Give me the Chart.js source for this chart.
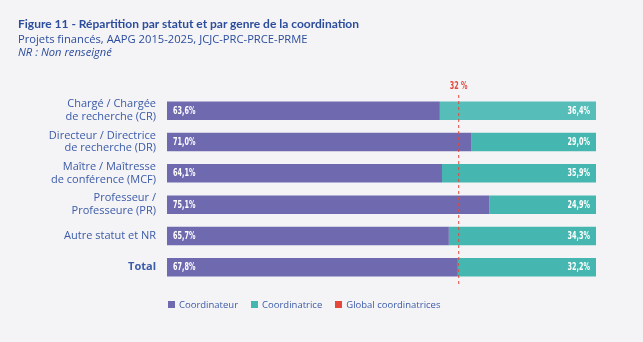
<!DOCTYPE html>
<html><head><meta charset="utf-8">
<script src="https://cdn.jsdelivr.net/npm/chart.js@4.4.1/dist/chart.umd.min.js"></script>
<style>
html,body{margin:0;padding:0;background:#f4f4f6;}
#wrap{position:relative;width:643px;height:342px;background:#f4f4f6;font-family:"Open Sans",sans-serif;}
canvas{position:absolute;left:0;top:0;}
.t{position:absolute;left:18px;color:#2c4c9c;white-space:nowrap;}
#t1{top:16px;font-weight:700;font-size:12px;font-family:Lato,sans-serif;}
#t2{top:31px;font-size:11.2px;}
#t3{top:44px;font-size:11.2px;font-style:italic;}
#legend{position:absolute;top:298px;left:168px;font-size:9.5px;color:#3b5aa8;white-space:nowrap;}
#legend span.i{display:inline-flex;align-items:center;margin-right:13px;}
#legend span.s{display:inline-block;width:7px;height:7px;margin-right:4px;}
</style></head><body>
<div id="wrap">
<canvas id="c" width="643" height="342"></canvas>
<div class="t" id="t1">Figure 11 - Répartition par statut et par genre de la coordination</div>
<div class="t" id="t2">Projets financés, AAPG 2015-2025, JCJC-PRC-PRCE-PRME</div>
<div class="t" id="t3">NR : Non renseigné</div>
<div id="legend"></div>
</div>
<script>
const categories = [
  ['Chargé / Chargée','de recherche (CR)'],
  ['Directeur / Directrice','de recherche (DR)'],
  ['Maître / Maîtresse','de conférence (MCF)'],
  ['Professeur /','Professeure (PR)'],
  'Autre statut et NR',
  'Total'
];
const coordinateur = [63.6, 71.0, 64.1, 75.1, 65.7, 67.8];
const coordinatrice = [36.4, 29.0, 35.9, 24.9, 34.3, 32.2];
const globalCoordinatrices = 32;

const PURPLE = '#6f6ab0', TEAL = '#45b7b0', RED = '#e5483b';
const fmt = v => v.toFixed(1).replace('.', ',') + '%';

function condensedText(ctx, text, x, y, align) {
  const sx = 0.72;
  const w = ctx.measureText(text).width * sx;
  let left = x;
  if (align === 'right') left = x - w;
  else if (align === 'center') left = x - w / 2;
  ctx.save();
  ctx.translate(left, y);
  ctx.scale(sx, 1);
  ctx.textAlign = 'left';
  ctx.fillText(text, 0, 0);
  ctx.restore();
}

const valueLabels = {
  id: 'valueLabels',
  afterDatasetsDraw(chart) {
    const ctx = chart.ctx;
    ctx.save();
    ctx.fillStyle = '#ffffff';
    ctx.font = "bold 10px 'DejaVu Sans Condensed', 'Liberation Sans Narrow', sans-serif";
    ctx.textBaseline = 'middle';
    const m0 = chart.getDatasetMeta(0), m1 = chart.getDatasetMeta(1);
    m0.data.forEach((bar, i) => {
      condensedText(ctx, fmt(coordinateur[i]), bar.base + 6, bar.y + 0.5, 'left');
    });
    m1.data.forEach((bar, i) => {
      condensedText(ctx, fmt(coordinatrice[i]), bar.x - 6, bar.y + 0.5, 'right');
    });
    const xs = chart.scales.x;
    const x = xs.getPixelForValue(100 - globalCoordinatrices);
    const area = chart.chartArea;
    ctx.strokeStyle = RED;
    ctx.lineWidth = 1;
    ctx.setLineDash([3, 3]);
    ctx.beginPath();
    ctx.moveTo(x, area.top);
    ctx.lineTo(x, area.bottom + 2);
    ctx.stroke();
    ctx.setLineDash([]);
    ctx.fillStyle = RED;
    condensedText(ctx, globalCoordinatrices + ' %', x, area.top - 9, 'center');
    ctx.restore();
  }
};

new Chart(document.getElementById('c'), {
  type: 'bar',
  data: {
    labels: categories,
    datasets: [
      { label: 'Coordinateur', data: coordinateur, backgroundColor: PURPLE },
      { label: 'Coordinatrice', data: coordinatrice, backgroundColor: coordinatrice.map((v,i)=> i===0 ? '#56bdb8' : TEAL) }
    ]
  },
  options: {
    indexAxis: 'y',
    responsive: false,
    animation: false,
    layout: { padding: { top: 95, bottom: 59, right: 47, left: 0 } },
    datasets: { bar: { categoryPercentage: 0.8, barPercentage: 0.74, borderWidth: 0 } },
    plugins: { legend: { display: false }, tooltip: { enabled: false }, title: { display: false } },
    scales: {
      x: { stacked: true, min: 0, max: 100, display: false },
      y: {
        stacked: true,
        grid: { display: false, drawTicks: false },
        border: { display: false },
        afterFit(s) { s.width = 167; },
        ticks: {
          padding: 11,
          color: '#3b5aa8',
          font: c => ({ family: "'Open Sans', sans-serif", size: 11, weight: c.index === 5 ? 'bold' : 'normal', lineHeight: 1.15 })
        }
      }
    }
  },
  plugins: [valueLabels]
});

const items = [['Coordinateur', PURPLE], ['Coordinatrice', TEAL], ['Global coordinatrices', RED]];
document.getElementById('legend').innerHTML = items.map(([t, c]) =>
  `<span class="i"><span class="s" style="background:${c}"></span>${t}</span>`).join('');
</script>
</body></html>
